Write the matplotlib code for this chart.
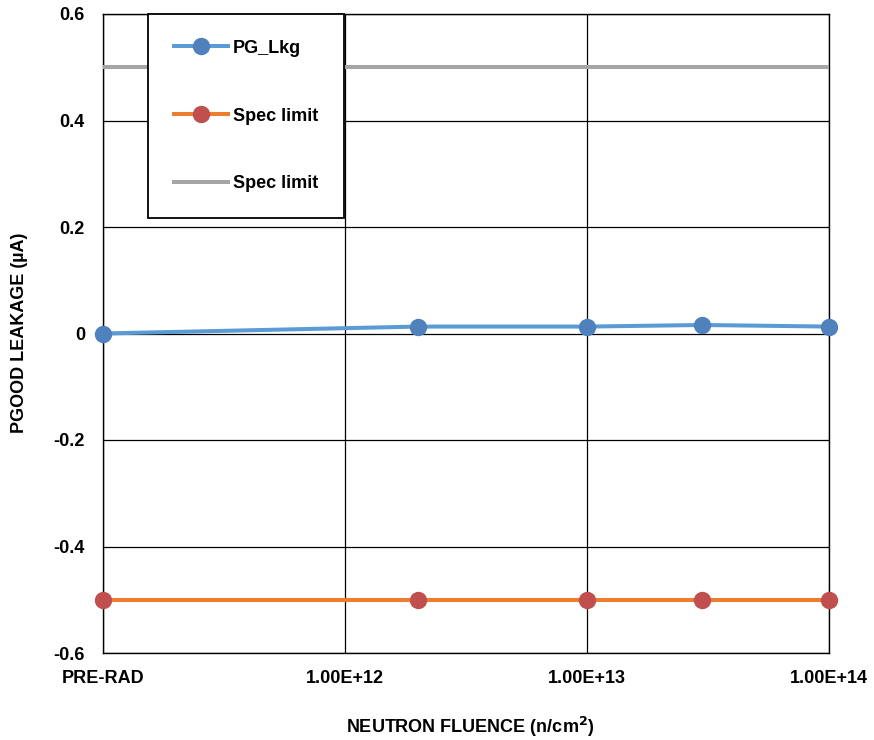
import matplotlib
matplotlib.use("Agg")
import matplotlib.pyplot as plt
from matplotlib.ticker import FixedLocator, FixedFormatter, NullLocator

plt.rcParams['font.family'] = ['Liberation Sans', 'DejaVu Sans']
plt.rcParams['font.weight'] = 'bold'
plt.rcParams['mathtext.default'] = 'bf'

# Data (PRE-RAD plotted at 1e11 on a log fluence axis)
fluence = [1e11, 2e12, 1e13, 3e13, 1e14]
pg_lkg = [0.0, 0.013, 0.013, 0.016, 0.013]
spec_low = [-0.5, -0.5, -0.5, -0.5, -0.5]
spec_high = [0.5, 0.5, 0.5, 0.5, 0.5]
x_ticks = [1e11, 1e12, 1e13, 1e14]
x_labels = ['PRE-RAD', '1.00E+12', '1.00E+13', '1.00E+14']
y_ticks = [-0.6, -0.4, -0.2, 0, 0.2, 0.4, 0.6]
y_labels = ['-0.6', '-0.4', '-0.2', '0', '0.2', '0.4', '0.6']

FS = 13

fig = plt.figure(figsize=(8.74, 7.4), dpi=100)
ax = fig.add_axes([103/874, 1-653/740, (829-103)/874, (653-14)/740])

ax.plot(fluence, pg_lkg, color='#5B9BD5', lw=2.9, marker='o', ms=11.5,
        mfc='#4F81BD', mec='#4F81BD', label='PG_Lkg', zorder=4, clip_on=False)
ax.plot(fluence, spec_low, color='#ED7D31', lw=2.9, marker='o', ms=11.5,
        mfc='#C0504D', mec='#C0504D', label='Spec limit', zorder=3, clip_on=False)
ax.plot(fluence, spec_high, color='#A5A5A5', lw=2.9, label='Spec limit', zorder=3)

ax.set_xscale('log')
ax.set_xlim(1e11, 1e14)
ax.set_ylim(-0.6, 0.6)
ax.xaxis.set_major_locator(FixedLocator(x_ticks))
ax.xaxis.set_major_formatter(FixedFormatter(x_labels))
ax.xaxis.set_minor_locator(NullLocator())
ax.yaxis.set_major_locator(FixedLocator(y_ticks))
ax.yaxis.set_major_formatter(FixedFormatter(y_labels))
ax.tick_params(axis='both', length=0, labelsize=FS)
ax.tick_params(axis='x', pad=12)
ax.tick_params(axis='y', pad=13)
ax.grid(True, color='black', lw=0.9, zorder=1)
ax.set_axisbelow(True)
for s in ax.spines.values():
    s.set_color('black')
    s.set_linewidth(1.0)

fig.text(470/874, 1-727/740, 'NEUTRON FLUENCE (n/cm$^{2}$)', fontsize=FS,
         fontweight='bold', ha='center', va='center')
fig.text(20/874, 1-333/740, 'PGOOD LEAKAGE (µA)', fontsize=FS, fontweight='bold',
         rotation=90, ha='center', va='center')

leg = ax.legend(loc='upper left', bbox_to_anchor=(148/874, 1-14/740),
                bbox_transform=fig.transFigure, borderaxespad=0,
                fancybox=False, shadow=False, framealpha=1, edgecolor='black',
                prop={'size': FS, 'weight': 'bold'}, labelspacing=2.82, handlelength=3.0,
                handletextpad=0.28, borderpad=1.42)
leg.get_frame().set_linewidth(1.3)
leg.set_zorder(10)

fig.savefig('out.png', dpi=100)
